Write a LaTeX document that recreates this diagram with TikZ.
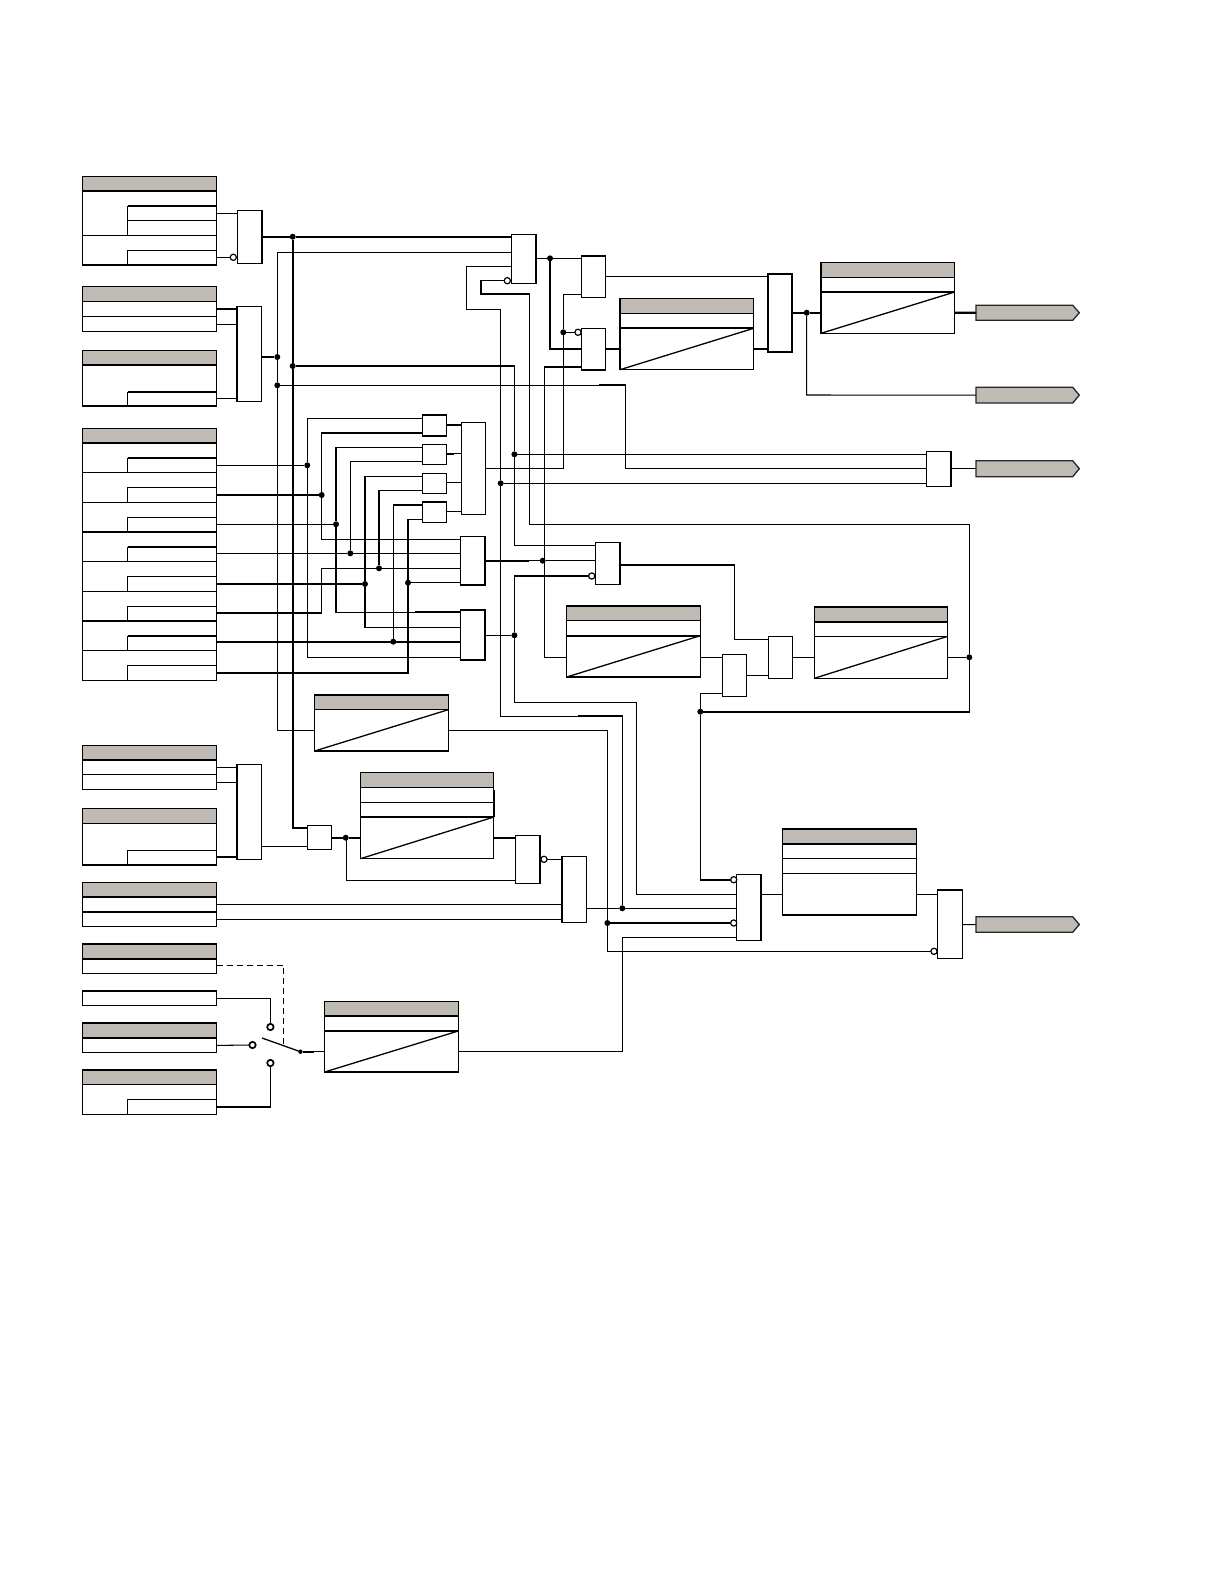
\documentclass[tikz,border=0pt]{standalone}
\usetikzlibrary{calc}
\definecolor{hdrgrey}{RGB}{192,186,180}
\tikzset{
  boxn/.style={draw=black,fill=white,line width=1.15pt,rectangle,inner sep=0pt,outer sep=0pt},
  wire/.style={line width=1.05pt,draw=black},
  bold/.style={line width=2.1pt,draw=black,line cap=butt,line join=miter},
  junct/.style={circle,fill=black,draw=none,inner sep=0pt,minimum size=6pt,outer sep=0pt},
  smalldot/.style={circle,fill=black,draw=none,inner sep=0pt,minimum size=4.5pt,outer sep=0pt},
  invert/.style={circle,fill=white,draw=black,line width=1.2pt,inner sep=0pt,minimum size=6.2pt,outer sep=0pt},
  contact/.style={circle,fill=white,draw=black,line width=1.7pt,inner sep=0pt,minimum size=6.4pt,outer sep=0pt},
  dashwire/.style={line width=1.1pt,draw=black,dash pattern=on 6pt off 4pt},
  outshape/.style={fill=hdrgrey,draw=black!85,line width=1.3pt,line join=miter},
}
% box node: name x1 y1 x2 y2
\newcommand{\bx}[5]{%
  \pgfmathsetmacro\bwd{#4-#2}\pgfmathsetmacro\bht{#5-#3}%
  \node[boxn,minimum width=\bwd pt,minimum height=\bht pt] (#1) at ({(#2+#4)/2},{(#3+#5)/2}) {};}
% table/header box: name x1 y1 x2 y2 headerY
\newcommand{\tb}[6]{%
  \bx{#1}{#2}{#3}{#4}{#5}%
  \fill[hdrgrey] (#1.north west) rectangle (#1.east|-0,#6);
  \draw[wire,line width=1.15pt] (#1.north west) rectangle (#1.east|-0,#6);}
\newcommand{\rowl}[3][wire]{\draw[#1] (#2.west|-0,#3) -- (#2.east|-0,#3);}
\newcommand{\subr}[4][wire]{\draw[wire] (127.5,#4) -- (127.5,#3); \draw[#1] (127.5,#3) -- (#2.east|-0,#3);}
\newcommand{\diag}[2]{\draw[wire,line width=1.3pt] (#1.south west) -- (#1.east|-0,#2);}
\newcommand{\outp}[3]{%
  \draw[outshape] (976,#2) -- (1072.7,#2) -- (1079.3,{(#2+#3)/2}) -- (1072.7,#3) -- (976,#3) -- cycle;
  \coordinate (#1) at (976,{(#2+#3)/2});}
\newcommand{\dt}[3]{\node[junct] (#1) at (#2,#3) {};}
\newcommand{\iv}[3]{\node[invert] (#1) at (#2,#3) {};}
\begin{document}
\begin{tikzpicture}[x=1pt,y=-1pt]
\useasboundingbox (0,0) rectangle (1224,1584);
\fill[white] (0,0) rectangle (1224,1584);
% ---------- input tables
\tb{tA}{82.3}{176.7}{216.5}{265}{191}
\draw[bold] (tA.west|-0,191) -- (tA.east|-0,191);
\subr[bold]{tA}{205.7}{235.3}
\draw[wire] (127.5,220.3) -- (tA.east|-0,220.3);
\rowl{tA}{235.3}
\subr{tA}{250.3}{265}
\tb{tB}{82.3}{286.7}{216.5}{331.3}{301.3}
\rowl{tB}{316.3}
\tb{tC}{82.3}{350.7}{216.5}{406}{365}
\draw[bold] (tC.west|-0,365) -- (tC.east|-0,365);
\subr[bold]{tC}{392}{406}
\tb{tD}{82.3}{428.7}{216.5}{680.3}{443}
\draw[bold] (tD.west|-0,443) -- (tD.east|-0,443);
\subr[bold]{tD}{458}{472.3}
\rowl{tD}{472.3}
\subr{tD}{487.3}{502.3}
\rowl{tD}{502.3}
\subr{tD}{517.3}{532}
\rowl[bold]{tD}{532}
\subr[bold]{tD}{547}{561.3}
\rowl{tD}{561.3}
\subr{tD}{576.3}{591.3}
\rowl{tD}{591.3}
\subr{tD}{606.3}{621}
\rowl[bold]{tD}{621}
\subr[bold]{tD}{636}{650.3}
\rowl{tD}{650.3}
\subr{tD}{665.3}{680.3}
\tb{tV}{82.3}{745.7}{216.5}{789.3}{760}
\draw[bold] (tV.west|-0,760) -- (tV.east|-0,760);
\rowl{tV}{774.3}
\tb{tW}{82.3}{808.3}{216.5}{864.7}{823.3}
\subr{tW}{850.3}{864.7}
\draw[bold] (tW.south west) -- (tW.south east);
\tb{tCC}{82.3}{882.3}{216.5}{926.3}{896.7}
\draw[bold] (tCC.west|-0,896.7) -- (tCC.east|-0,896.7);
\rowl[bold]{tCC}{911.7}
\tb{tE}{82.3}{944}{216.5}{973.3}{958.7}
\draw[bold] (tE.north west) -- (tE.north east);
\draw[bold] (tE.west|-0,958.7) -- (tE.east|-0,958.7);
\bx{tF}{82.3}{991}{216.5}{1005.3}
\draw[bold] (tF.north west) -- (tF.north east);
\tb{tG}{82.3}{1022.7}{216.5}{1052.3}{1037.7}
\draw[bold] (tG.north west) -- (tG.north east);
\draw[bold] (tG.west|-0,1037.7) -- (tG.east|-0,1037.7);
\tb{tH}{82.3}{1069.7}{216.5}{1114.3}{1084.3}
\draw[bold] (tH.north west) -- (tH.north east);
\subr{tH}{1099.3}{1114.3}
% ---------- timer boxes
\tb{bM}{620}{298.7}{753.7}{369.7}{313.3}
\rowl[bold]{bM}{328.3}\diag{bM}{328.3}
\tb{bN}{821}{262.7}{954.7}{333.3}{277.3}
\rowl{bN}{292}\diag{bN}{292}
\tb{bL}{566.7}{606}{700.3}{677}{620.3}
\rowl[bold]{bL}{635.7}\diag{bL}{635.7}
\tb{bT}{814.3}{607}{947.7}{678.3}{622}
\draw[bold] (bT.west|-0,622) -- (bT.east|-0,622);
\rowl{bT}{636.3}\diag{bT}{636.3}
\tb{bU}{314.6}{695}{448.2}{751}{709.7}
\diag{bU}{709.7}
\tb{bZ}{360.4}{772.7}{493.9}{858.7}{787.7}
\rowl{bZ}{802.3}\rowl{bZ}{817}\diag{bZ}{817}
\draw[bold] (bZ.east|-0,790) -- (bZ.east|-0,817);
\tb{bEE}{324.6}{1001.3}{458.2}{1072}{1016}
\rowl[bold]{bEE}{1031}\diag{bEE}{1031}
\tb{bFF}{782.3}{828.7}{916.3}{915}{843.7}
\draw[bold] (bFF.north west) -- (bFF.north east);
\draw[bold] (bFF.west|-0,843.7) -- (bFF.east|-0,843.7);
\rowl{bFF}{858.3}\rowl{bFF}{873.3}
\draw[bold] (bFF.south west) -- (bFF.south east);
% ---------- gates
\bx{g1}{237.3}{210.3}{262.3}{263.3}
\bx{g2}{236.7}{306.3}{261.7}{401.3}
\bx{gX}{236.8}{764.3}{261.8}{859.3}
\bx{sa}{422.3}{415}{446.7}{436}
\bx{sb}{422.3}{444.3}{446.7}{464.3}
\bx{sc}{422.3}{473.3}{446.7}{493.3}
\bx{sd}{422.3}{501.7}{446.7}{522.3}
\bx{gE}{461.3}{422.3}{485.7}{514.3}
\bx{gF}{460.3}{536.7}{485}{585}
\bx{gG}{460.3}{609.7}{485}{660}
\bx{gH}{511.3}{234.3}{536}{283.3}
\bx{gI}{581.3}{255.7}{605.7}{297.3}
\bx{gJ}{581.3}{328.3}{605.7}{370}
\bx{gK}{767.7}{273.7}{792.3}{352}
\bx{gO}{926.7}{451.3}{951.3}{486.3}
\bx{gP}{595.3}{542.7}{620}{584.3}
\bx{gS}{722.3}{654.3}{746.7}{696.3}
\bx{gR}{768.3}{636.3}{792.7}{678.3}
\bx{gQ}{736.3}{874.3}{761.3}{940.3}
\bx{gDD}{937.7}{890}{962.3}{958.7}
\bx{gY}{307.5}{825.3}{331.8}{849.3}
\bx{gAA}{515.7}{835.3}{540.4}{883.3}
\bx{gBB}{561.8}{856.3}{586.8}{922.3}
\draw[bold] (g1.north east) -- (g1.south east);
\draw[bold] (g2.north west) -- (g2.south west);
\draw[bold] (gX.north west) -- (gX.south west);
\draw[bold] (sa.south west) -- (sa.south east);
\draw[bold] (sd.north west) -- (sd.north east);
\draw[bold] (gF.north east) -- (gF.south east);
\draw[bold] (gG.north west) -- (gG.north east) -- (gG.south east);
\draw[bold] (gH.north east) -- (gH.south east);
\draw[bold] (gI.north west) -- (gI.north east);
\draw[bold] (gJ.south west) -- (gJ.south east);
\draw[bold] (gK.north west) rectangle (gK.south east);
\draw[bold] (gO.north east) -- (gO.south east);
\draw[bold] (gQ.north east) -- (gQ.south east);
\draw[bold] (gAA.north east) -- (gAA.south east);
\draw[bold] (gBB.north west) -- (gBB.south west);
% ---------- outputs
\outp{oa}{305.3}{320.3}
\outp{ob}{387.3}{403}
\outp{oc}{460.7}{476.7}
\outp{od}{916.7}{932.3}
% ---------- junctions and inverters
\dt{ja}{292.7}{236.7}\dt{jb}{277.3}{357}\dt{jc}{292.7}{366}\dt{jd}{277.3}{385.3}
\dt{je}{307.3}{465.3}\dt{jf}{321.7}{495}\dt{jg}{336}{524.3}\dt{jh}{350.3}{553.3}
\dt{ji}{365}{584}\dt{jk}{379}{568.3}\dt{jl}{393.3}{641.7}\dt{jm}{408}{582.7}
\dt{jn}{514.4}{454.3}\dt{jo}{500.7}{483.3}\dt{jp}{550}{258.3}\dt{jq}{563.3}{332.3}
\dt{jr}{542.7}{560.7}\dt{js}{514.4}{635.3}\dt{jt}{806.7}{312.7}\dt{ju}{969.3}{657.3}
\dt{jv}{700.3}{711.7}\dt{jw}{622.3}{908.3}\dt{jx}{607.4}{923}\dt{jy}{345.7}{837.7}
\iv{ia}{233.3}{257.3}\iv{ib}{507.3}{280.7}\iv{ic}{578}{332.3}\iv{id}{591.7}{576}
\iv{ie}{733.7}{879.7}\iv{ik}{733.7}{923}\iv{ig}{934}{951.3}\iv{ih}{544}{859.3}
\node[contact] (ca) at (270.4,1027) {};
\node[contact] (cb) at (252.5,1045) {};
\node[contact] (cc) at (270.4,1063) {};
\node[smalldot] (jz) at (300.4,1051.7) {};
\coordinate (blade) at (262,1038);
% ---------- wires: top left
\draw[wire] (tA.east|-0,213.3) -- (g1.west|-0,213.3);
\draw[wire] (tA.east|-0,257.3) -- (ia);
\draw[bold] (g1.east|-0,236.7) -- (ja);
\draw[bold] (ja) -- (gH.west|-0,236.7);
\draw[bold] (tB.east|-0,308.7) -- (g2.west|-0,308.7);
\draw[wire] (tB.east|-0,324.3) -- (g2.west|-0,324.3);
\draw[wire] (tC.east|-0,398.3) -- (g2.west|-0,398.3);
\draw[bold] (g2.east|-0,357) -- (jb);
\draw[wire] (gH.west|-0,252.3) -- (277.3,252.3) -- (jb);
\draw[wire] (jb) -- (jd);
\draw[wire] (jd) -- (277.3,730.3) -- (bU.west|-0,730.3);
\draw[bold] (ja) -- (jc);
\draw[bold] (jc) -- (292.7,828.5);
\draw[wire] (292.7,828) -- (gY.west|-0,828);
\draw[bold] (jc) -- (514.4,366);
\draw[wire] (514.4,365) -- (jn);
\draw[wire] (jn) -- (514.4,545.3) -- (gP.west|-0,545.3);
\draw[wire] (jn) -- (gO.west|-0,454.3);
\draw[wire] (jd) -- (625.7,385.3) -- (625.7,468.7) -- (gO.west|-0,468.7);
\draw[bold] (599,385.3) -- (626.3,385.3);
% ---------- table D signals
\draw[wire] (tD.east|-0,465.3) -- (je);
\draw[bold] (tD.east|-0,495) -- (285,495);
\draw[wire] (285,495) -- (jf);
\draw[wire] (tD.east|-0,524.3) -- (jg);
\draw[wire] (tD.east|-0,553.3) -- (jh);
\draw[wire] (jh) -- (gF.west|-0,553.3);
\draw[bold] (tD.east|-0,584) -- (ji);
\draw[bold] (tD.east|-0,612.7) -- (322.3,612.7);
\draw[wire] (321.7,612.7) -- (321.7,568.3) -- (jk);
\draw[wire] (jk) -- (gF.west|-0,568.3);
\draw[bold] (tD.east|-0,641.7) -- (gG.west|-0,641.7);
\draw[bold] (tD.east|-0,672.7) -- (408,672.7) -- (408,519.3);
\draw[wire] (407,519.3) -- (sd.west|-0,519.3);
\draw[wire] (jm) -- (gF.west|-0,582.7);
\draw[wire] (sa.west|-0,418.3) -- (307.3,418.3) -- (je);
\draw[wire] (je) -- (307.3,657.3) -- (gG.west|-0,657.3);
\draw[bold] (sa.west|-0,432.7) -- (321.1,432.7);
\draw[wire] (321.7,431.7) -- (jf);
\draw[wire] (jf) -- (321.7,539.4) -- (gF.west|-0,539.4);
\draw[wire] (sb.west|-0,447.7) -- (335,447.7);
\draw[bold] (336,447.1) -- (jg);
\draw[bold] (jg) -- (336,612.9);
\draw[wire] (336,612.3) -- (gG.west|-0,612.3);
\draw[bold] (415,612.3) -- (gG.west|-0,612.3);
\draw[wire] (sb.west|-0,461.3) -- (350.3,461.3) -- (jh);
\draw[wire] (sc.west|-0,476.3) -- (365,476.3);
\draw[bold] (365,475.7) -- (ji);
\draw[bold] (ji) -- (365,627.9);
\draw[wire] (365,627.4) -- (gG.west|-0,627.4);
\draw[wire] (sc.west|-0,490.3) -- (379,490.3) -- (jk);
\draw[bold] (sd.west|-0,504.7) -- (392.7,504.7);
\draw[wire] (393.3,503.7) -- (jl);
\draw[wire] (sa.east|-0,425) -- (gE.west|-0,425);
\draw[bold] (454,425) -- (gE.west|-0,425);
\draw[wire] (sb.east|-0,453.7) -- (gE.west|-0,453.7);
\draw[bold] (sb.east|-0,453.7) -- (454,453.7);
\draw[wire] (sc.east|-0,482.3) -- (gE.west|-0,482.3);
\draw[wire] (sd.east|-0,511.3) -- (gE.west|-0,511.3);
% ---------- centre
\draw[wire] (gE.east|-0,468.3) -- (563.3,468.3) -- (jq);
\draw[wire] (jq) -- (563.3,294.3) -- (gI.west|-0,294.3);
\draw[wire] (jq) -- (ic);
\draw[wire] (gH.east|-0,258.3) -- (jp);
\draw[wire] (jp) -- (gI.west|-0,258.3);
\draw[bold] (jp) -- (550,348.7) -- (gJ.west|-0,348.7);
\draw[bold] (gJ.west|-0,367) -- (543.7,367);
\draw[wire] (544.3,366) -- (544.3,657.3) -- (bL.west|-0,657.3);
\draw[wire] (gH.west|-0,266.3) -- (466.3,266.3) -- (466.3,309.3) -- (500.7,309.3) -- (jo);
\draw[wire] (jo) -- (500.7,716.3) -- (622.3,716.3) -- (jw);
\draw[bold] (578,716.3) -- (622.9,716.3);
\draw[wire] (jo) -- (gO.west|-0,483.3);
\draw[wire] (ib) -- (480.7,280.7);
\draw[bold] (480.7,279.7) -- (480.7,294.3) -- (530.3,294.3);
\draw[wire] (529.7,294.3) -- (529.7,524.3) -- (969.3,524.3) -- (ju);
\draw[wire] (ju) -- (969.3,711.7);
\draw[bold] (969.9,711.7) -- (jv);
\draw[wire] (gI.east|-0,276.3) -- (gK.west|-0,276.3);
\draw[bold] (gJ.east|-0,348.7) -- (bM.west|-0,348.7);
\draw[bold] (bM.east|-0,348.7) -- (gK.west|-0,348.7);
\draw[bold] (gK.east|-0,312.7) -- (jt);
\draw[bold] (jt) -- (bN.west|-0,312.7);
\draw[bold] (bN.east|-0,312.7) -- (oa);
\draw[wire] (jt) -- (806.7,395) -- (ob);
\draw[wire] (gO.east|-0,468.7) -- (oc);
% ---------- gates F G P chain
\draw[bold] (gF.east|-0,560.7) -- (528.7,560.7);
\draw[wire] (528.7,560.7) -- (jr);
\draw[wire] (jr) -- (gP.west|-0,560.7);
\draw[wire] (gG.east|-0,635.3) -- (js);
\draw[bold] (id) -- (513.8,576);
\draw[wire] (514.4,575) -- (js);
\draw[wire] (js) -- (514.4,702.3) -- (636.7,702.3) -- (636.7,894.3) -- (gQ.west|-0,894.3);
\draw[bold] (gP.east|-0,564.7) -- (734.9,564.7);
\draw[wire] (734.3,564.7) -- (734.3,639.3) -- (gR.west|-0,639.3);
\draw[wire] (bL.east|-0,657.3) -- (gS.west|-0,657.3);
\draw[wire] (gS.east|-0,675.3) -- (gR.west|-0,675.3);
\draw[wire] (gR.east|-0,657.3) -- (bT.west|-0,657.3);
\draw[wire] (bT.east|-0,657.3) -- (ju);
\draw[wire] (gS.west|-0,693.3) -- (700.3,693.3) -- (jv);
\draw[wire] (jv) -- (700.3,879.7);
\draw[bold] (699.7,879.7) -- (ie);
\draw[wire] (bU.east|-0,730.3) -- (607.4,730.3) -- (jx);
\draw[wire] (jx) -- (607.4,951.3) -- (ig);
\draw[bold] (jx) -- (ik);
% ---------- lower left
\draw[wire] (tV.east|-0,767.3) -- (gX.west|-0,767.3);
\draw[wire] (tV.east|-0,782.3) -- (gX.west|-0,782.3);
\draw[bold] (tW.east|-0,857) -- (gX.west|-0,857);
\draw[wire] (gX.east|-0,846.3) -- (gY.west|-0,846.3);
\draw[bold] (gY.east|-0,837.7) -- (jy);
\draw[bold] (jy) -- (bZ.west|-0,837.7);
\draw[bold] (bZ.east|-0,837.7) -- (gAA.west|-0,837.7);
\draw[wire] (346.4,837.7) -- (346.4,880.3) -- (gAA.west|-0,880.3);
\draw[wire] (ih) -- (gBB.west|-0,859.3);
\draw[wire] (tCC.east|-0,904.3) -- (gBB.west|-0,904.3);
\draw[wire] (tCC.east|-0,919.3) -- (gBB.west|-0,919.3);
\draw[wire] (gBB.east|-0,908.3) -- (jw);
\draw[wire] (jw) -- (gQ.west|-0,908.3);
\draw[wire] (bEE.east|-0,1051.3) -- (622.3,1051.3) -- (622.3,937.3) -- (gQ.west|-0,937.3);
\draw[wire] (gQ.east|-0,894.3) -- (bFF.west|-0,894.3);
\draw[wire] (bFF.east|-0,894.3) -- (gDD.west|-0,894.3);
\draw[wire] (gDD.east|-0,924.7) -- (od);
% ---------- selector switch
\draw[dashwire] (tE.east|-0,965.3) -- (283.6,965.3) -- (283.6,1045);
\draw[wire] (tF.east|-0,998.3) -- (270.4,998.3) -- (ca);
\draw[wire] (tG.east|-0,1045.4) -- (cb);
\draw[bold] (tH.east|-0,1107) -- (271,1107);
\draw[wire] (270.4,1107) -- (cc);
\draw[wire,line width=1.3pt] (blade) -- (jz);
\draw[bold] (jz) -- (314,1051.7);
\draw[wire] (314,1051.7) -- (bEE.west|-0,1051.7);
\end{tikzpicture}
\end{document}
